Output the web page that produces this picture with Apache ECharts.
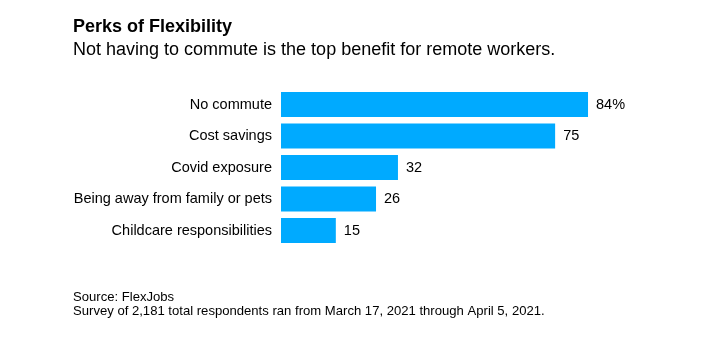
<!DOCTYPE html>
<html><head><meta charset="utf-8">
<script src="https://cdn.jsdelivr.net/npm/echarts@6/dist/echarts.min.js"></script>
<style>html,body{margin:0;padding:0;background:#fff}#c{width:719px;height:343px}</style>
</head><body><div id="c"></div>
<script>
const categories = ["No commute", "Cost savings", "Covid exposure", "Being away from family or pets", "Childcare responsibilities"];
const values = [84, 75, 32, 26, 15];
const valueLabels = ["84%", "75", "32", "26", "15"];

const chart = echarts.init(document.getElementById('c'));
const F = 'Liberation Sans, Arial, Helvetica, sans-serif';
chart.setOption({
  animation: false,
  title: [
    { text: 'Perks of Flexibility', left: 73, top: 18, padding: 0,
      textStyle: { fontFamily: F, fontSize: 18, fontWeight: 'bold', color: '#000' } },
    { text: 'Not having to commute is the top benefit for remote workers.', left: 73, top: 41, padding: 0,
      textStyle: { fontFamily: F, fontSize: 18, fontWeight: 'normal', color: '#000' } },
    { text: 'Source: FlexJobs\nSurvey of 2,181 total respondents ran from March 17, 2021 through April 5, 2021.',
      left: 73, top: 290, padding: 0,
      textStyle: { fontFamily: F, fontSize: 13.1, fontWeight: 'normal', color: '#000', lineHeight: 14.5 } }
  ],
  grid: { left: 281, top: 88.75, height: 157.5, width: 365.5 },
  xAxis: { type: 'value', min: 0, max: 100, show: false },
  yAxis: {
    type: 'category', data: categories, inverse: true,
    axisLine: { show: false }, axisTick: { show: false },
    axisLabel: { fontFamily: F, fontSize: 14.5, color: '#000', margin: 9 }
  },
  series: [{
    type: 'bar', data: values, barWidth: 25,
    itemStyle: { color: '#00aaff' },
    label: { show: true, position: 'right', distance: 8, fontFamily: F, fontSize: 14.5, color: '#000',
      formatter: p => valueLabels[p.dataIndex] }
  }]
});
</script></body></html>
